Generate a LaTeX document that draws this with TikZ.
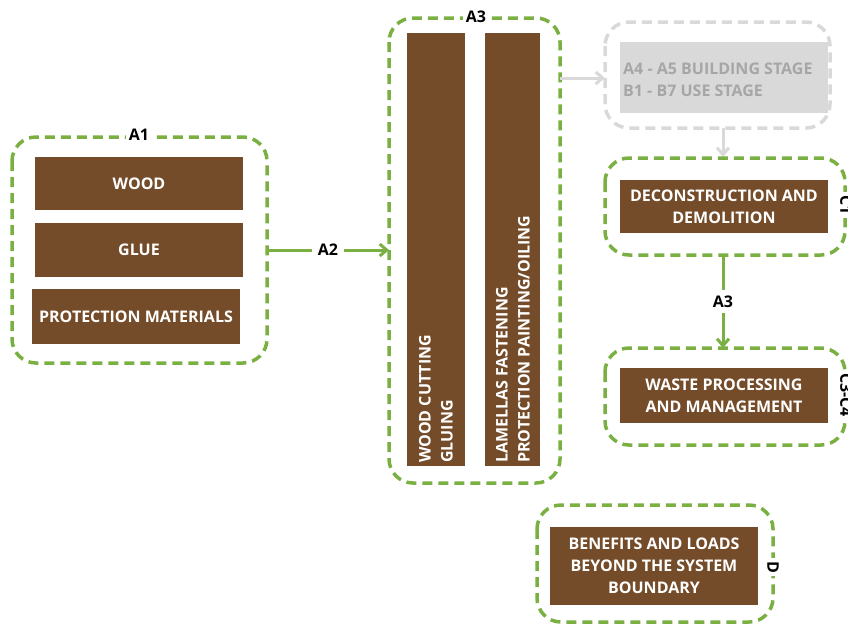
\documentclass[tikz,border=0pt]{standalone}
\usepackage{fontspec}
\setmainfont{Open Sans}[BoldFont={* Bold}]
\usetikzlibrary{arrows.meta}
\definecolor{grn}{RGB}{122,176,66}
\definecolor{brn}{RGB}{117,76,41}
\definecolor{lgr}{RGB}{217,217,217}
\definecolor{tgr}{RGB}{166,166,166}
\begin{document}
\begin{tikzpicture}[x=1pt,y=-1pt,
  font=\bfseries\fontsize{16}{22}\selectfont,
  frame/.style={draw=grn,line width=3.5pt,dash pattern=on 10pt off 6pt,rounded corners=24pt},
  gframe/.style={frame,draw=lgr},
  bbox/.style={fill=brn,text=white,align=center,inner sep=0pt},
  lab/.style={fill=white,text=black,inner sep=3pt},
  garr/.style={draw=grn,line width=3pt,-{Straight Barb[length=7pt,width=12pt,line width=3pt]}},
  grarr/.style={draw=lgr,line width=3pt,-{Straight Barb[length=7pt,width=12pt,line width=3pt]}}]
\useasboundingbox (0,0) rectangle (848,625);
% A1
\draw[frame] (12,137) rectangle (267,363);
\node[lab] (a1) at (139,135) {A1};
\node[bbox,minimum width=208pt,minimum height=53pt] (wood) at (139,183.5) {WOOD};
\node[bbox,minimum width=208pt,minimum height=54pt] (glue) at (139,250) {GLUE};
\node[bbox,minimum width=208pt,minimum height=55pt] (prot) at (136,316.5) {PROTECTION MATERIALS};
\coordinate (a1e) at (267,250);
% A3
\draw[frame] (389,18) rectangle (560,483);
\node[lab] (a3) at (476,17) {A3};
\coordinate (a3w) at (389,250);
\node[fill=brn,minimum width=58pt,minimum height=433pt,inner sep=0pt] (c1) at (436,249.5) {};
\node[fill=brn,minimum width=55pt,minimum height=433pt,inner sep=0pt] (c2) at (512.5,249.5) {};
\node[rotate=90,anchor=west,text=white,align=left,inner sep=0pt] (t1) at (436,463) {WOOD CUTTING\\GLUING};
\node[rotate=90,anchor=west,text=white,align=left,inner sep=0pt] (t2) at (513,463) {LAMELLAS FASTENING\\PROTECTION PAINTING/OILING};
\draw[garr] (a1e) -- node[lab,inner sep=6pt] (a2) {A2} (a3w);
% gray stage
\draw[gframe] (605,22) rectangle (830,128);
\node[fill=lgr,minimum width=208pt,minimum height=71pt,inner sep=0pt] (gbox) at (724,77.5) {};
\node[text=tgr,align=left,anchor=west,inner sep=0pt] (gt) at (623,79.5) {A4 - A5 BUILDING STAGE\\B1 - B7 USE STAGE};
\coordinate (a3e) at (560,78);
\coordinate (gw) at (605,78);
\coordinate (gs) at (723,128);
\coordinate (c1n) at (723,157);
\draw[grarr] (a3e) -- (gw);
\draw[grarr] (gs) -- (c1n);
% C1
\draw[frame] (605,158) rectangle (845,255);
\node[bbox,minimum width=208pt,minimum height=53pt] (dec) at (724,206.5) {DECONSTRUCTION AND\\DEMOLITION};
\node[lab,rotate=-90] (lc1) at (846,205) {C1};
% C3-C4
\draw[frame] (605,348) rectangle (845,445);
\node[bbox,minimum width=208pt,minimum height=55pt] (waste) at (724,395.5) {WASTE PROCESSING\\AND MANAGEMENT};
\node[lab,rotate=-90] (lc3) at (846,395) {C3-C4};
\coordinate (c1s) at (723,255);
\coordinate (c3n) at (723,348);
\draw[garr] (c1s) -- node[lab,inner sep=6pt] (a3b) {A3} (c3n);
% D
\draw[frame] (537,505) rectangle (773,622);
\node[bbox,minimum width=208pt,minimum height=78pt] (ben) at (654,566) {BENEFITS AND LOADS\\BEYOND THE SYSTEM\\BOUNDARY};
\node[lab,rotate=-90] (ld) at (773,567) {D};
\end{tikzpicture}
\end{document}
